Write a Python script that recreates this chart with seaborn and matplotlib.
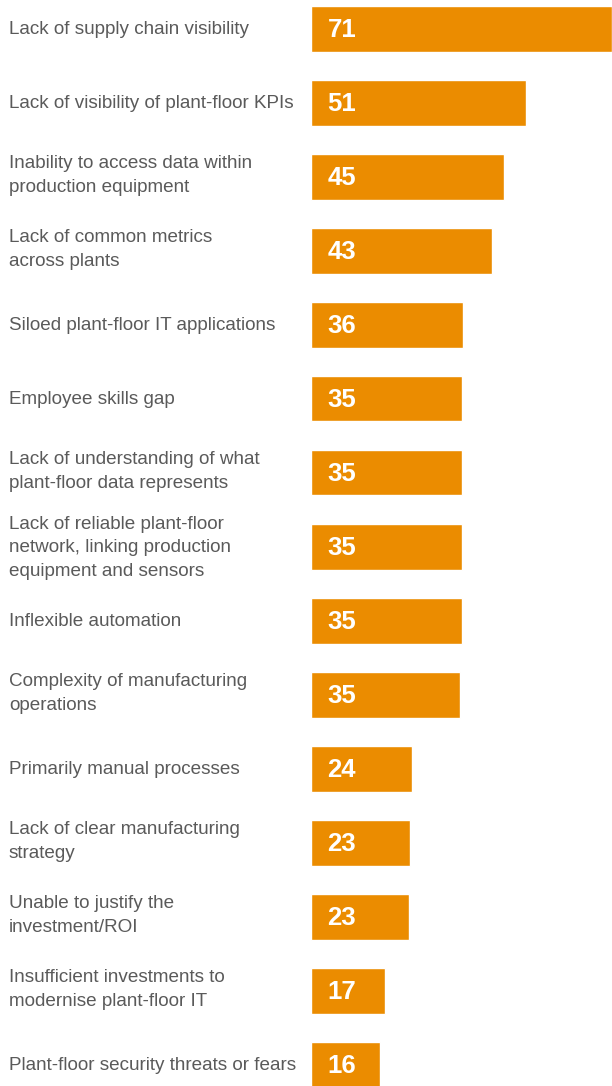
import pandas as pd
import matplotlib
matplotlib.use("Agg")
import matplotlib.pyplot as plt
import seaborn as sns

categories = [
    "Lack of supply chain visibility",
    "Lack of visibility of plant-floor KPIs",
    "Inability to access data within\nproduction equipment",
    "Lack of common metrics\nacross plants",
    "Siloed plant-floor IT applications",
    "Employee skills gap",
    "Lack of understanding of what\nplant-floor data represents",
    "Lack of reliable plant-floor\nnetwork, linking production\nequipment and sensors",
    "Inflexible automation",
    "Complexity of manufacturing\noperations",
    "Primarily manual processes",
    "Lack of clear manufacturing\nstrategy",
    "Unable to justify the\ninvestment/ROI",
    "Insufficient investments to\nmodernise plant-floor IT",
    "Plant-floor security threats or fears",
]
# bar lengths as drawn (unrounded), and the printed labels
values = [71, 50.7, 45.5, 42.7, 35.9, 35.6, 35.6, 35.6, 35.6, 35.1,
          23.8, 23.4, 23.1, 17.5, 16.3]
value_labels = ["71", "51", "45", "43", "36", "35", "35", "35", "35", "35",
                "24", "23", "23", "17", "16"]

df = pd.DataFrame({"challenge": categories, "pct": values})

sns.set_style("white")
plt.rcParams["font.family"] = ["Liberation Sans", "DejaVu Sans"]

W, H = 612, 1086
fig = plt.figure(figsize=(W / 100, H / 100), dpi=100)

# one row = 74 px, first bar centre at y=29 px
row = 74
top_px = 28.5 - row / 2
ax_h = row * len(values)
ax = fig.add_axes([310.5 / W, 1 - (top_px + ax_h) / H, (W - 310.5) / W, ax_h / H])

sns.barplot(data=df, y="challenge", x="pct", orient="h", color="#EB8C00",
            saturation=1, width=46 / row, ax=ax)

ax.set_xlim(0, 71)
ax.set_ylim(len(values) - 0.5, -0.5)
ax.set_xlabel("")
ax.set_ylabel("")
ax.set_xticks([])
ax.set_yticks([])
sns.despine(ax=ax, left=True, bottom=True)

# small nudges so labels sit like the original (px, by number of lines)
nudge = {1: 0, 2: -1.5, 3: 1}

for i, (cat, lab) in enumerate(zip(categories, value_labels)):
    ax.text(17 / (W - 311) * 71, i + 0.02, lab, color="white", fontsize=18.5,
            fontweight="bold", va="center", ha="left")
    # category label, placed in figure pixel terms on the left
    n_lines = cat.count("\n") + 1
    y_fig = 1 - (29 + i * row + nudge[n_lines]) / H
    fig.text(9 / W, y_fig, cat, color="#5a5a5a", fontsize=13.6,
             va="center", ha="left", linespacing=1.5)

fig.savefig("out.png", dpi=100)
